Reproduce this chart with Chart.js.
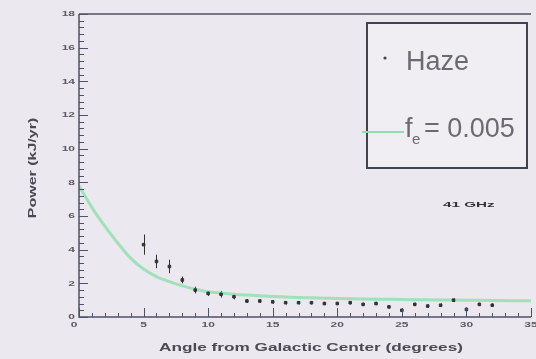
<!DOCTYPE html>
<html>
<head>
<meta charset="utf-8">
<script src="https://cdn.jsdelivr.net/npm/chart.js@4"></script>
<style>
  html, body { margin: 0; padding: 0; background: #ece8ef; }
  #wrap { width: 536px; height: 359px; position: relative; }
</style>
</head>
<body>
<div id="wrap"><canvas id="powerChart"></canvas></div>
<script>
// haze points with error bars
const hazeAngle = [5, 6, 7, 8, 9, 10, 11, 12, 13, 14, 15, 16, 17, 18, 19, 20, 21, 22, 23, 24, 25, 26, 27, 28, 29, 30, 31, 32];
const hazePower = [4.3, 3.3, 3.0, 2.2, 1.6, 1.4, 1.35, 1.2, 0.95, 0.95, 0.9, 0.85, 0.85, 0.85, 0.8, 0.8, 0.85, 0.75, 0.8, 0.6, 0.4, 0.75, 0.65, 0.7, 1.0, 0.45, 0.75, 0.7];
const hazeErr = [0.6, 0.4, 0.4, 0.2, 0.2, 0.15, 0.2, 0.15, 0.12, 0.1, 0.1, 0.1, 0.1, 0.1, 0.1, 0.1, 0.1, 0.1, 0.1, 0.1, 0.12, 0.1, 0.1, 0.1, 0.12, 0.12, 0.1, 0.1];

// model curve, f_e = 0.005
const modelAngle = [0, 1, 2, 3, 4, 5, 6, 7, 8, 9, 10, 11, 12, 13, 14, 15, 16, 17, 18, 19, 20, 22, 24, 26, 28, 30, 32, 35];
const modelPower = [7.8, 6.5, 5.4, 4.4, 3.5, 2.85, 2.4, 2.1, 1.85, 1.65, 1.5, 1.42, 1.35, 1.3, 1.26, 1.22, 1.19, 1.16, 1.14, 1.12, 1.1, 1.07, 1.05, 1.03, 1.01, 1.0, 0.98, 0.96];

const xTicks = [0, 5, 10, 15, 20, 25, 30, 35];
const yTicks = [0, 2, 4, 6, 8, 10, 12, 14, 16, 18];

const axisColor = '#4e5266';
const sans = '"Liberation Sans", Arial, sans-serif';

// text squeezed/widened along its own direction
function wideText(ctx, text, x, y, sx, align) {
  ctx.save();
  ctx.translate(x, y);
  ctx.scale(sx, 1);
  ctx.textAlign = align;
  ctx.fillText(text, 0, 0);
  ctx.restore();
}

const frame = {
  id: 'frame',
  beforeDatasetsDraw(chart) {
    const { ctx, scales: { x, y } } = chart;
    ctx.save();
    // error bars
    ctx.strokeStyle = '#333';
    ctx.lineWidth = 1;
    hazeAngle.forEach((ang, i) => {
      const px = Math.round(x.getPixelForValue(ang)) + 0.5;
      ctx.beginPath();
      ctx.moveTo(px, y.getPixelForValue(hazePower[i] - hazeErr[i]));
      ctx.lineTo(px, y.getPixelForValue(hazePower[i] + hazeErr[i]));
      ctx.stroke();
    });
    ctx.restore();
  },
  afterDraw(chart) {
    const { ctx, chartArea: a, scales: { x, y } } = chart;
    ctx.save();
    ctx.strokeStyle = axisColor;
    ctx.lineWidth = 1.5;
    // frame lines
    ctx.beginPath();
    ctx.moveTo(a.left, a.top);
    ctx.lineTo(a.right, a.top);
    ctx.moveTo(a.left, a.top);
    ctx.lineTo(a.left, a.bottom);
    ctx.lineTo(a.right, a.bottom);
    ctx.stroke();

    // y ticks
    ctx.lineWidth = 1;
    for (let v = 0; v <= 18.001; v += 0.4) {
      const py = Math.round(y.getPixelForValue(v)) + 0.5;
      const major = Math.abs(v / 2 - Math.round(v / 2)) < 0.01;
      ctx.beginPath();
      ctx.moveTo(a.left, py);
      ctx.lineTo(a.left + (major ? 9 : 5), py);
      ctx.stroke();
    }
    // x ticks
    for (let v = 0; v <= 35; v += 1) {
      const px = Math.round(x.getPixelForValue(v)) + 0.5;
      const major = v % 5 === 0;
      ctx.beginPath();
      ctx.moveTo(px, a.bottom);
      ctx.lineTo(px, a.bottom - (major ? 9 : 4));
      ctx.stroke();
    }

    // tick labels
    ctx.fillStyle = '#5a5a66';
    ctx.font = 'bold 8px ' + sans;
    ctx.textBaseline = 'middle';
    yTicks.forEach(v => wideText(ctx, String(v), a.left - 4, y.getPixelForValue(v), 1.5, 'right'));
    ctx.textBaseline = 'top';
    xTicks.forEach(v => wideText(ctx, String(v), x.getPixelForValue(v) - (v === 0 ? 5 : 0), a.bottom + 4, 1.5, 'center'));

    // axis titles
    ctx.fillStyle = '#4a4a55';
    ctx.font = 'bold 10px ' + sans;
    ctx.textBaseline = 'middle';
    wideText(ctx, 'Angle from Galactic Center (degrees)', 311, 348, 1.72, 'center');
    ctx.save();
    ctx.translate(33, 168);
    ctx.rotate(-Math.PI / 2);
    wideText(ctx, 'Power (kJ/yr)', 0, 0, 1.6, 'center');
    ctx.restore();

    ctx.fillStyle = '#333';
    ctx.font = 'bold 8px ' + sans;
    wideText(ctx, '41 GHz', 443, 205, 1.9, 'left');

    // legend box
    ctx.fillStyle = '#f1eef3';
    ctx.fillRect(367, 23, 160, 145);
    ctx.strokeStyle = '#3f4250';
    ctx.lineWidth = 2;
    ctx.strokeRect(367, 23, 160, 145);

    ctx.fillStyle = '#444';
    ctx.beginPath();
    ctx.arc(385, 58, 1.6, 0, Math.PI * 2);
    ctx.fill();
    ctx.fillStyle = '#6a6a72';
    ctx.textAlign = 'left';
    ctx.textBaseline = 'middle';
    ctx.font = '27px ' + sans;
    ctx.fillText('Haze', 406, 63);

    ctx.strokeStyle = '#8fe0ae';
    ctx.lineWidth = 2;
    ctx.beginPath();
    ctx.moveTo(362, 132);
    ctx.lineTo(404, 132);
    ctx.stroke();
    ctx.fillText('f', 405, 130);
    ctx.font = '15px ' + sans;
    ctx.fillText('e', 412, 140);
    ctx.font = '27px ' + sans;
    ctx.fillText('= 0.005', 424, 130);
    ctx.restore();
  }
};

new Chart(document.getElementById('powerChart'), {
  type: 'scatter',
  data: {
    datasets: [
      {
        label: 'f_e = 0.005',
        type: 'line',
        order: 1,
        data: modelAngle.map((a, i) => ({ x: a, y: modelPower[i] })),
        borderColor: 'rgba(140, 224, 172, 0.8)',
        borderWidth: 3,
        cubicInterpolationMode: 'monotone',
        pointRadius: 0,
        fill: false
      },
      {
        label: 'Haze',
        order: 0,
        data: hazeAngle.map((a, i) => ({ x: a, y: hazePower[i] })),
        backgroundColor: '#333',
        borderColor: '#333',
        pointRadius: 1.8,
        pointStyle: 'rect'
      }
    ]
  },
  options: {
    responsive: true,
    maintainAspectRatio: false,
    animation: false,
    layout: { padding: { left: 79, top: 14, right: 0, bottom: 42 } },
    plugins: { legend: { display: false }, tooltip: { enabled: false } },
    scales: {
      x: { type: 'linear', min: 0, max: 35, display: false },
      y: { type: 'linear', min: 0, max: 18, display: false }
    }
  },
  plugins: [frame]
});
</script>
</body>
</html>
